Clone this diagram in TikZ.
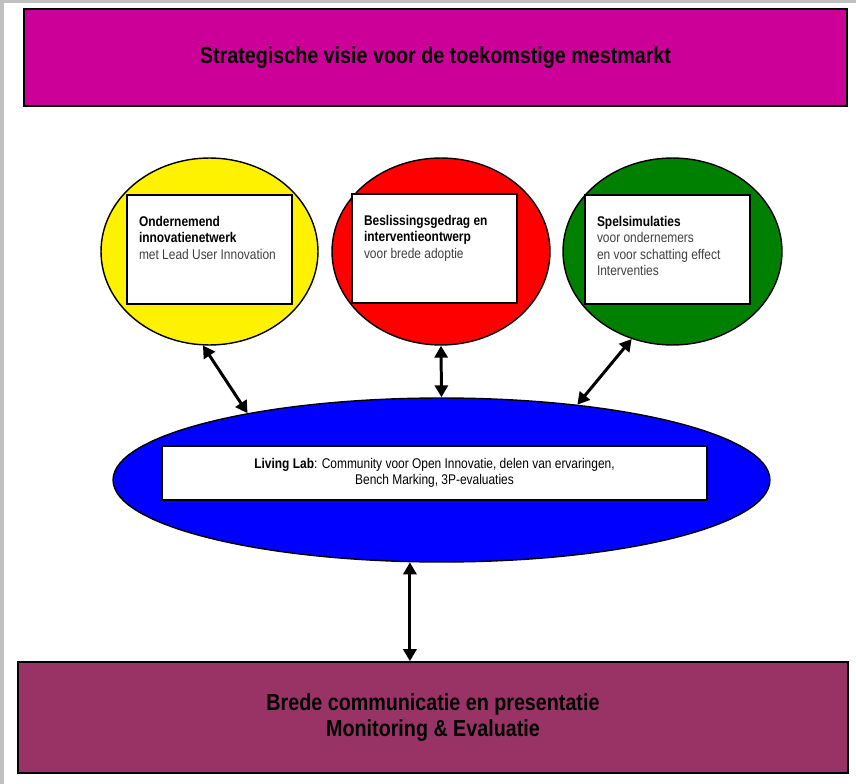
\documentclass[tikz,border=0pt]{standalone}
\usepackage{fontspec}
\setmainfont{Liberation Sans}[FakeStretch=0.85]
\usepackage{tikz}
\usetikzlibrary{arrows.meta,shapes.geometric}
\definecolor{visiepink}{HTML}{CC0099}
\definecolor{commpurple}{HTML}{993366}
\definecolor{spelgreen}{HTML}{008000}
\definecolor{framegray}{HTML}{C0C0C0}
\definecolor{bodygray}{HTML}{404040}
\newcommand{\celltext}[1]{\parbox[c][2.18cm][t]{2.82cm}{\raggedright\vspace*{0.42cm}#1}}

\begin{document}
\begin{tikzpicture}[
        x=0.02cm, y=-0.02cm,
        bigbox/.style={rectangle,draw=black,line width=0.9pt,inner sep=0pt,
                       align=center,font=\fontsize{13.2}{15}\selectfont\bfseries},
        blob/.style={ellipse,draw=black,line width=0.8pt,inner sep=0pt},
        inbox/.style={rectangle,draw=black,line width=0.9pt,fill=white,
                      inner xsep=0.24cm,inner ysep=0pt,font=\fontsize{8}{9.4}\selectfont},
        link/.style={{Triangle[length=0.24cm,width=0.26cm]}-{Triangle[length=0.24cm,width=0.26cm]},
                     line width=1.7pt}
      ]
        \useasboundingbox (0,0) rectangle (856,784);
        \fill[framegray] (0,0) rectangle (856,3);
        \fill[framegray] (0,0) rectangle (4,784);

        \node[bigbox,fill=visiepink,minimum width=16.46cm,minimum height=1.94cm] (visie) at (435.5,57.5)
          {Strategische visie voor de toekomstige mestmarkt};

        \node[blob,fill=yellow,minimum width=4.34cm,minimum height=3.74cm] (onder) at (209.5,251.5) {};
        \node[blob,fill=red,minimum width=4.36cm,minimum height=3.74cm] (beslis) at (441,251.5) {};
        \node[blob,fill=spelgreen,minimum width=4.38cm,minimum height=3.74cm] (spel) at (672.5,251.5) {};

        \node[inbox] (ondertxt) at (209.5,249.5) {\celltext{
          \textbf{Ondernemend}\\ \textbf{innovatienetwerk}\\
          \color{bodygray} met Lead User Innovation}};
        \node[inbox] (beslistxt) at (434.5,248.5) {\celltext{
          \textbf{Beslissingsgedrag en}\\ \textbf{interventieontwerp}\\
          \color{bodygray} voor brede adoptie}};
        \node[inbox] (speltxt) at (667.5,249.5) {\celltext{
          \textbf{Spelsimulaties}\\
          {\color{bodygray} voor ondernemers\\ en voor schatting effect\\ Interventies}}};

        \node[blob,fill=blue,minimum width=13.14cm,minimum height=3.28cm] (lab) at (441.5,480) {};
        \node[inbox,align=center,minimum width=10.9cm,minimum height=1.08cm] (labtxt) at (434.5,473) {
          \textbf{Living Lab}: Community voor Open Innovatie, delen van ervaringen,\\
          Bench Marking, 3P-evaluaties};

        \node[bigbox,fill=commpurple,minimum width=16.6cm,minimum height=2.22cm] (comm) at (433,717.5)
          {Brede communicatie en presentatie\\ Monitoring \& Evaluatie};

        \draw[link] (onder.-94) -- (lab.161);
        \draw[link] (beslis.south) -- (lab.north);
        \draw[link] (spel.-115) -- (lab.29);
        \draw[link] (lab.-111) -- (lab.-111 |- comm.north);
      \end{tikzpicture}
\end{document}
